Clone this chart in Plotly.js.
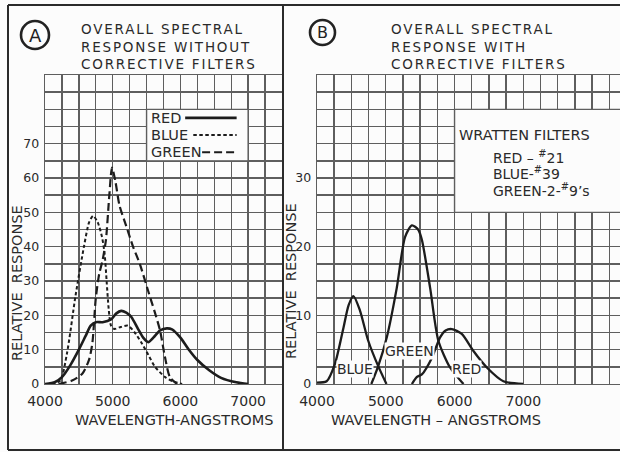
<!DOCTYPE html>
<html><head><meta charset="utf-8">
<script src="https://cdn.plot.ly/plotly-3.0.1.min.js"></script>
<style>html,body{margin:0;padding:0;background:#fcfcfc;} #chart{width:620px;height:452px;}</style>
</head><body><div id="chart"></div>
<script>
// ---------- Panel A : without corrective filters ----------
const aRedWl   = [4000,4150,4250,4375,4500,4600,4675,4750,4850,4975,5050,5125,5200,5275,5375,5450,5525,5600,5700,5800,5875,6000,6125,6250,6425,6600,6825,7000];
const aRedVal  = [0,0.6,2,5.5,10,14,17,18,18,18.8,20.5,21.3,20.8,19.5,16,13.5,12.2,13.5,15.6,16.2,15.9,13.5,10,7,4,1.8,0.5,0];
const aBlueWl  = [4100,4225,4325,4450,4575,4650,4710,4780,4840,4880,4910,4940,4975,5025,5100,5225,5325,5425,5525,5625,5775,5900,6025];
const aBlueVal = [0,1,9,25.6,40,47,49,47,43,38,30,22,17,16,16.5,17,15,12,8.5,5,2,0.7,0];
const aGreenWl = [4200,4400,4550,4650,4700,4750,4800,4850,4900,4950,4990,5040,5100,5200,5300,5400,5525,5620,5700,5770,5845,5950];
const aGreenVal= [0,1,3,7,12,25,32,36,42,55,63,59,52,46,40,35,27,21,15.5,8,2,0];

// ---------- Panel B : with corrective filters ----------
const bBlueWl  = [4000,4140,4260,4385,4460,4530,4625,4745,4890,5010];
const bBlueVal = [0.2,0.4,2.9,8.2,11.5,12.8,10.7,6.3,2.6,0];
const bGreenWl = [4790,4890,5015,5160,5280,5380,5470,5525,5645,5765,5935,6130];
const bGreenVal= [0,2.6,6.8,14,21.4,23.1,22.5,21,14,6.3,2.4,0];
const bRedWl   = [5380,5450,5525,5670,5790,5870,5960,6105,6275,6470,6710,7000];
const bRedVal  = [0,1,1.4,3.8,6.8,7.8,8,7.3,4.8,2.4,0.4,0];

// ---------- tick labels & texts ----------
const xTickVals = [4000,5000,6000,7000];
const xTickText = ['4000','5000','6000','7000'];
const aYTickVals = [0,10,20,30,40,50,60,70];
const aYTickText = ['0','10','20','30','40','50','60','70'];
const bYTickVals = [0,10,20,30];
const bYTickText = ['0','10','20','30'];
const aTitleLines = ['OVERALL SPECTRAL','RESPONSE WITHOUT','CORRECTIVE FILTERS'];
const bTitleLines = ['OVERALL SPECTRAL','RESPONSE WITH','CORRECTIVE FILTERS'];
const aLegendNames = ['RED','BLUE','GREEN'];
const bCurveNames = ['BLUE','GREEN','RED'];
const wrattenLines = ['RED \u2013 <sup>#</sup>21','BLUE-<sup>#</sup>39','GREEN-2-<sup>#</sup>9\u2019s'];

const W=620, H=452;
const px = v => v/W, py = v => 1 - v/H;
const GRID='#5e5e5e', INK='#1c1c1c', TXT='#2a2a2a', BG='#fcfcfc';
const FONT='DejaVu Sans, sans-serif';

function ln(x,y,xa,ya,dash,w){return {x:x,y:y,xaxis:xa,yaxis:ya,mode:'lines',hoverinfo:'skip',
  line:{color:INK,width:w,dash:dash,shape:'spline',smoothing:0.7}};}
const traces=[
  ln(aRedWl,aRedVal,'x','y','solid',2.6),
  ln(aBlueWl,aBlueVal,'x','y','3.5px,2.5px',2),
  ln(aGreenWl,aGreenVal,'x','y','8px,4px',2.2),
  ln(bBlueWl,bBlueVal,'x2','y2','solid',2.3),
  ln(bGreenWl,bGreenVal,'x2','y2','solid',2.3),
  ln(bRedWl,bRedVal,'x2','y2','solid',2.3)
];

const ydom=[py(384),py(75)];
function xax(dom,rng,anchor){return {domain:dom,range:rng,anchor:anchor,tickmode:'array',tickvals:xTickVals,ticktext:xTickText,
  tickfont:{family:FONT,size:14,color:TXT},ticks:'',showgrid:true,gridcolor:GRID,gridwidth:1.4,zeroline:false,
  showline:true,mirror:true,linecolor:GRID,linewidth:1.4,ticklabelstandoff:4,fixedrange:true,
  minor:{tickmode:'linear',tick0:4000,dtick:250,showgrid:true,gridcolor:GRID,gridwidth:1.4,ticks:''}};}
function yax(rng,tv,tt,step,anchor){return {domain:ydom,range:rng,anchor:anchor,tickmode:'array',tickvals:tv,ticktext:tt,
  tickfont:{family:FONT,size:12.5,color:TXT},ticks:'',showgrid:true,gridcolor:GRID,gridwidth:1.4,zeroline:false,
  showline:true,mirror:true,linecolor:GRID,linewidth:1.4,ticklabelstandoff:2,fixedrange:true,
  minor:{tickmode:'linear',tick0:0,dtick:step,showgrid:true,gridcolor:GRID,gridwidth:1.4,ticks:''}};}

const xBend = 4000 + (W-317)/68.77*1000;
const layout={
  width:W,height:H,margin:{l:0,r:0,t:0,b:0},paper_bgcolor:BG,plot_bgcolor:BG,showlegend:false,hovermode:false,
  xaxis:xax([px(45),px(282)],[4000,7500],'y'),
  yaxis:yax([0,90],aYTickVals,aYTickText,5,'x'),
  xaxis2:xax([px(317),1],[4000,xBend],'y2'),
  yaxis2:yax([0,45],bYTickVals,bYTickText,2.5,'x2'),
  shapes:[],annotations:[]
};
const S=layout.shapes, A=layout.annotations;
// white boxes inside grids
S.push({type:'rect',xref:'x',yref:'y',x0:5500,x1:7000,y0:65,y1:80,fillcolor:BG,line:{color:GRID,width:1.4},layer:'between'});
S.push({type:'rect',xref:'x2',yref:'y2',x0:6000,x1:xBend+50,y0:25,y1:40,fillcolor:BG,line:{color:GRID,width:1.4},layer:'between'});
// frame
const fr={color:'#2b2b2b',width:2};
S.push({type:'line',xref:'paper',yref:'paper',x0:px(8),x1:1,y0:py(5),y1:py(5),line:fr});
S.push({type:'line',xref:'paper',yref:'paper',x0:px(8),x1:px(8),y0:py(5),y1:py(450),line:fr});
S.push({type:'line',xref:'paper',yref:'paper',x0:px(8),x1:1,y0:py(450),y1:py(450),line:fr});
S.push({type:'line',xref:'paper',yref:'paper',x0:px(283),x1:px(283),y0:py(5),y1:py(450),line:fr});
// circled letters
S.push({type:'circle',xref:'paper',yref:'paper',x0:px(21),x1:px(49),y0:py(21),y1:py(49),line:{color:'#222',width:2.6}});
S.push({type:'circle',xref:'paper',yref:'paper',x0:px(310),x1:px(335),y0:py(20),y1:py(45),line:{color:'#222',width:2.6}});
A.push({xref:'paper',yref:'paper',x:px(35),y:py(35.5),text:'A',showarrow:false,font:{family:FONT,size:18,color:'#222'},xanchor:'center',yanchor:'middle'});
A.push({xref:'paper',yref:'paper',x:px(322.5),y:py(33),text:'B',showarrow:false,font:{family:FONT,size:16,color:'#222'},xanchor:'center',yanchor:'middle'});
// titles (one multi-line text each)
A.push({xref:'paper',yref:'paper',x:px(79),y:py(46),text:aTitleLines.join('<br>'),align:'left',showarrow:false,xanchor:'left',yanchor:'middle',font:{family:FONT,size:13.5,color:TXT}});
A.push({xref:'paper',yref:'paper',x:px(389),y:py(46),text:bTitleLines.join('<br>'),align:'left',showarrow:false,xanchor:'left',yanchor:'middle',font:{family:FONT,size:13.5,color:TXT}});
// axis titles
A.push({xref:'paper',yref:'paper',x:px(17),y:py(283),text:'RELATIVE  RESPONSE',textangle:-90,showarrow:false,xanchor:'center',yanchor:'middle',font:{family:FONT,size:14.5,color:TXT}});
A.push({xref:'paper',yref:'paper',x:px(291),y:py(281),text:'RELATIVE  RESPONSE',textangle:-90,showarrow:false,xanchor:'center',yanchor:'middle',font:{family:FONT,size:14.5,color:TXT}});
A.push({xref:'paper',yref:'paper',x:px(174),y:py(420),text:'WAVELENGTH-ANGSTROMS',showarrow:false,xanchor:'center',yanchor:'middle',font:{family:FONT,size:14.5,color:TXT}});
A.push({xref:'paper',yref:'paper',x:px(436),y:py(420),text:'WAVELENGTH \u2013 ANGSTROMS',showarrow:false,xanchor:'center',yanchor:'middle',font:{family:FONT,size:14.5,color:TXT}});
// legend in panel A
const legY=[77.5,72.5,67.5], legX0=[6070,6190,6320], legDash=['solid','3.5px,2.5px','8px,4px'], legW=[2.6,2,2.2];
aLegendNames.forEach((t,i)=>{
  A.push({xref:'x',yref:'y',x:5540,y:legY[i],text:t,showarrow:false,xanchor:'left',yanchor:'middle',font:{family:FONT,size:14.5,color:TXT}});
  S.push({type:'line',xref:'x',yref:'y',x0:legX0[i],x1:6830,y0:legY[i],y1:legY[i],line:{color:INK,width:legW[i],dash:legDash[i]}});
});
// curve labels in panel B
const bLabX=[4553,5340,6180], bLabY=[2.2,4.8,2.2];
bCurveNames.forEach((t,i)=>A.push({xref:'x2',yref:'y2',x:bLabX[i],y:bLabY[i],text:t,showarrow:false,xanchor:'center',yanchor:'middle',bgcolor:BG,borderpad:0,font:{family:FONT,size:14,color:TXT}}));
// Wratten filters box
A.push({xref:'paper',yref:'paper',x:px(457),y:py(135),text:'WRATTEN FILTERS',showarrow:false,xanchor:'left',yanchor:'middle',font:{family:FONT,size:14.5,color:TXT}});
const wY=[157,173,190];
wrattenLines.forEach((t,i)=>A.push({xref:'paper',yref:'paper',x:px(491),y:py(wY[i]),text:t,showarrow:false,xanchor:'left',yanchor:'middle',font:{family:FONT,size:14,color:TXT}}));

Plotly.newPlot('chart',traces,layout,{staticPlot:true,displayModeBar:false}).then(()=>{
  // widen the lettering of the panel titles like the hand-lettered original
  document.querySelectorAll('.annotation-text').forEach(el=>{
    if(el.textContent.indexOf('OVERALL')===0){ el.style.letterSpacing='1.8px'; }
  });
});
</script></body></html>
